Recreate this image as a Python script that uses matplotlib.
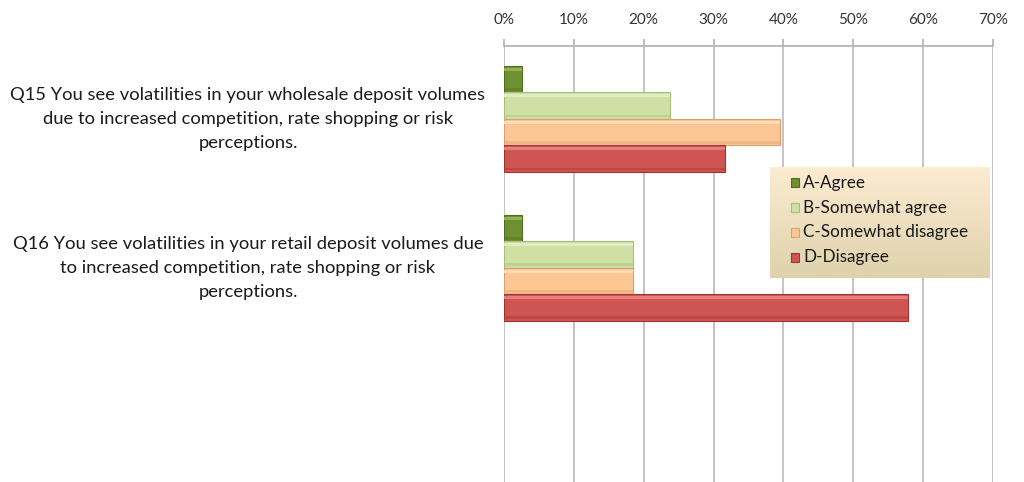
import numpy as np
import matplotlib.pyplot as plt
from matplotlib.transforms import blended_transform_factory

questions = [
    "Q15 You see volatilities in your wholesale deposit volumes\ndue to increased competition, rate shopping or risk\nperceptions.",
    "Q16 You see volatilities in your retail deposit volumes due\nto increased competition, rate shopping or risk\nperceptions.",
]
answers = ["A-Agree", "B-Somewhat agree", "C-Somewhat disagree", "D-Disagree"]
# share of respondents per answer, one list per question
q15 = [2.6, 23.7, 39.5, 31.6]
q16 = [2.6, 18.4, 18.4, 57.9]
ticks = [0, 10, 20, 30, 40, 50, 60, 70]

# fill, highlight, shadow for each answer
fills = ["#6f9032", "#cfe0a4", "#fcc794", "#cf5553"]
lights = ["#9cbc5c", "#e6f0d0", "#fee2c0", "#ec8a88"]
darks = ["#506e22", "#a9bf78", "#dca070", "#9e3533"]

plt.rcParams['font.family'] = ['Lato', 'DejaVu Sans']

fig = plt.figure(figsize=(10.24, 4.82), dpi=100)
ax = fig.add_axes([504 / 1024, 0.0, (993 - 504) / 1024, 1 - 46 / 482])

values = np.array([q15, q16]).T
pos = np.arange(len(questions))
h = 0.178

for i, ans in enumerate(answers):
    y = pos + (i - 1.5) * h
    v = values[i]
    ax.barh(y, v, height=h, color=fills[i], edgecolor=darks[i], linewidth=0.8, zorder=3)
    # bevel: light strip on top, soft dark strip underneath
    ax.barh(y - h * 0.37, v, height=h * 0.12, color=lights[i], linewidth=0, alpha=0.8, zorder=4)
    ax.barh(y + h * 0.39, v, height=h * 0.1, color=darks[i], linewidth=0, alpha=0.4, zorder=4)

ax.set_xlim(0, 70)
ax.set_ylim(2.44, -0.49)
ax.xaxis.tick_top()
ax.set_xticks(ticks)
ax.set_xticklabels([f"{t}%" for t in ticks], fontsize=11, color="#333333")
ax.tick_params(axis='x', length=5, color="#b0b0b0", width=1.2, pad=9)
ax.set_yticks([])
ax.grid(axis='x', color="#c4c4c4", linewidth=1.4, zorder=0)
for s in ["right", "bottom", "left"]:
    ax.spines[s].set_visible(False)
ax.spines["top"].set_color("#b0b0b0")
ax.spines["top"].set_linewidth(1.2)

tr = blended_transform_factory(fig.transFigure, ax.transData)
for p, q in zip(pos, questions):
    ax.text(248 / 1024, p, q, transform=tr, ha='center', va='center',
            fontsize=13.2, color="#1a1a1a", linespacing=1.6, multialignment='center')

# legend box with a beige gradient
lx0, lx1 = 770 / 1024, 990 / 1024
ly0, ly1 = 1 - 278 / 482, 1 - 167 / 482
grad = np.linspace(0, 1, 100).reshape(-1, 1)
top_c = np.array([253, 236, 210]) / 255
bot_c = np.array([222, 210, 172]) / 255
img = top_c * (1 - grad[..., None]) + bot_c * grad[..., None]
img = np.repeat(img, 2, axis=1)
lax = fig.add_axes([lx0, ly0, lx1 - lx0, ly1 - ly0])
lax.imshow(img, aspect='auto', extent=[0, 1, 0, 1], origin='upper')
lax.set_xlim(0, 1)
lax.set_ylim(0, 1)
lax.axis('off')
for i, ans in enumerate(answers):
    yy = 0.86 - i * 0.225
    lax.add_patch(plt.Rectangle((0.095, yy - 0.04), 0.036, 0.08, facecolor=fills[i],
                                edgecolor=darks[i], linewidth=0.8))
    lax.text(0.152, yy, ans, ha='left', va='center', fontsize=12.3, color="#1a1a1a")

fig.savefig("out.png", dpi=100)
